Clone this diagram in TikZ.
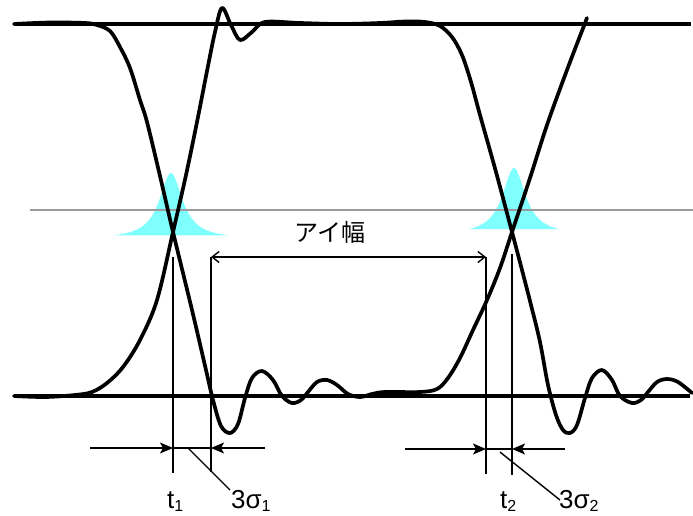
\documentclass[tikz,border=0pt]{standalone}
\usepackage{fontspec}
\setmainfont{Liberation Sans}
\newfontfamily\jpfont{Noto Sans CJK JP}
\usetikzlibrary{arrows.meta}
\definecolor{gausscyan}{RGB}{128,255,255}
\definecolor{midgray}{RGB}{155,155,155}
\newcommand\mysub[1]{\raisebox{-3pt}{\fontsize{16}{16}\selectfont #1}}
\begin{document}
\begin{tikzpicture}[x=1pt,y=-1pt,
  levelline/.style={line width=3.6pt},
  signal/.style={line width=3.7pt, line join=round, line cap=round},
  guide/.style={line width=1.4pt},
  dimarrow/.style={line width=1.4pt,-{Stealth[length=13pt,width=11pt,inset=3pt]}},
  eyearrow/.style={line width=1.4pt,{Straight Barb[length=7pt,width=11pt]}-{Straight Barb[length=7pt,width=11pt]}},
  lbl/.style={inner sep=0pt, anchor=base west, font=\fontsize{26}{30}\selectfont},
]
\useasboundingbox (0,0) rectangle (693,515);

% jitter distributions
\fill[gausscyan] plot[domain=-57:57,samples=120] ({171+\x},{236-66/(1+(\x/14)^2)+3}) -- cycle;
\fill[gausscyan] plot[domain=-45:45,samples=120] ({514+\x},{232-67/(1+(\x/14)^2)+3}) -- cycle;

% threshold line
\draw[midgray, line width=1.9pt] (30,210) -- (693,210);

% levels
\draw[levelline] (14,24) -- (691,24);
\draw[levelline] (14,396) -- (690,396);

% signals
\draw[signal] plot[smooth, tension=0.55] coordinates {(14,24) (50,22.5) (85,23) (97,25) (110,31) (120,47) (130,68) (140,100) (147,122) (160,176) (173,232) (192,310) (206,370) (213,400) (221,426) (230,433) (238,424) (245,398) (252,378) (262,371) (273,380) (282,396) (292,403) (301,400) (308,392) (317,382) (327,380) (337,385) (348,394) (360,397) (372,394) (385,392) (420,392) (437,389) (448,378) (460,358) (473,330) (487,300) (500,268) (512,232) (530,178) (547,125) (567,70) (587,18)};

\draw[signal] plot[smooth, tension=0.55] coordinates {(14,396) (45,397) (75,395) (92,392) (107,383) (123,367) (140,340) (157,300) (173,232) (186,175) (197,122) (208,66) (215,32) (222,8) (231,25) (240,40) (252,32) (265,22) (300,23) (340,24) (380,23) (405,21.5) (425,22) (440,26) (452,37) (462,55) (471,82) (480,115) (496,172) (512,232) (522,270) (531,305) (540,342) (548,385) (556,415) (563,430) (570,433) (577,425) (585,398) (592,378) (602,370) (612,380) (620,396) (632,403) (641,400) (648,392) (657,382) (667,379) (678,382) (692,393)};

% vertical guides
\coordinate (t1top) at (173,257); \coordinate (t1bot) at (173,473);
\coordinate (e1top) at (211,257); \coordinate (e1bot) at (211,472);
\coordinate (e2top) at (486,257); \coordinate (e2bot) at (486,474);
\coordinate (t2top) at (512,254); \coordinate (t2bot) at (512,475);
\draw[guide] (t1top) -- (t1bot);
\draw[guide] (e1top) -- (e1bot);
\draw[guide] (e2top) -- (e2bot);
\draw[guide] (t2top) -- (t2bot);

% eye width
\draw[eyearrow] (e1top) -- (e2top);
\node[inner sep=0pt, anchor=base, font=\jpfont\fontsize{24}{28}\selectfont] (eyelbl) at (330,241) {アイ幅};

% left jitter dimension
\coordinate (l1) at (90,448); \coordinate (l1a) at (173,448);
\coordinate (l1b) at (211,448); \coordinate (l1r) at (265,448);
\draw[dimarrow] (l1) -- (l1a);
\draw[dimarrow] (l1r) -- (l1b);
\draw[guide] (l1a) -- (l1b);
\node[lbl] (t1lbl) at (167,508) {t\mysub{1}};
\node[lbl] (s1lbl) at (231,508) {3σ\mysub{1}};
\coordinate (ld1) at (188,448); \coordinate (ld1e) at (230,490);
\draw[guide] (ld1) -- (ld1e);

% right jitter dimension
\coordinate (r1) at (405,449); \coordinate (r1a) at (486,449);
\coordinate (r1b) at (512,449); \coordinate (r1r) at (565,449);
\draw[dimarrow] (r1) -- (r1a);
\draw[dimarrow] (r1r) -- (r1b);
\draw[guide] (r1a) -- (r1b);
\node[lbl] (t2lbl) at (500,508) {t\mysub{2}};
\node[lbl] (s2lbl) at (559,508) {3σ\mysub{2}};
\coordinate (ld2) at (500,452); \coordinate (ld2e) at (560,500);
\draw[guide] (ld2) -- (ld2e);
\end{tikzpicture}
\end{document}
